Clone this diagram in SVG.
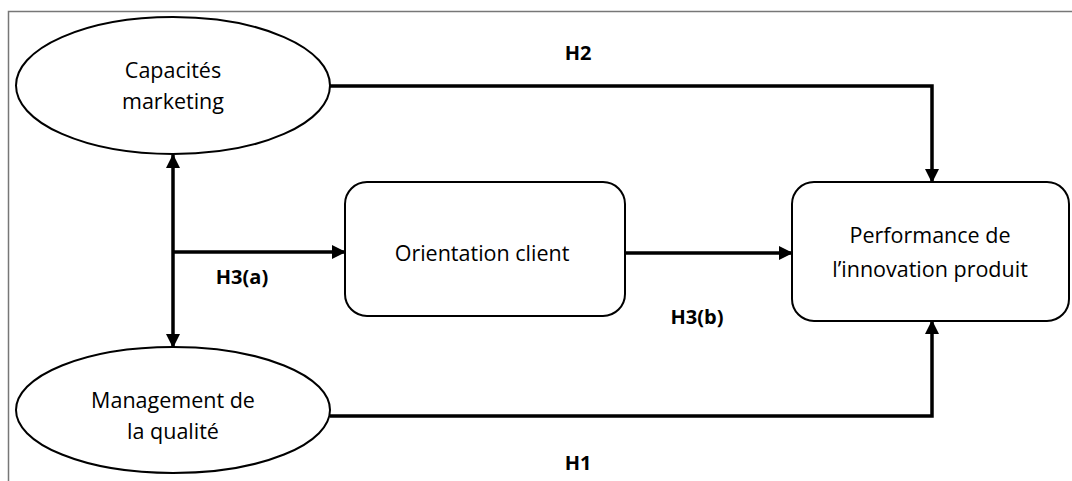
<svg xmlns="http://www.w3.org/2000/svg" width="1072" height="481" viewBox="0 0 1072 481">
<defs>
<marker id="ah2" markerWidth="14" markerHeight="14" refX="13" refY="7" orient="auto" markerUnits="userSpaceOnUse" viewBox="0 0 14 14">
<path d="M0,0 L14,7 L0,14 z" fill="#000"/>
</marker>
</defs>
<style>
.node{fill:#fff;stroke:#000;stroke-width:2}
.lbl{font-family:"Open Sans","Liberation Sans",sans-serif;font-size:21.5px;fill:#000;text-anchor:middle}
.hl{font-family:"Open Sans","Liberation Sans",sans-serif;font-size:20px;font-weight:bold;fill:#000;text-anchor:middle}
.con{fill:none;stroke:#000;stroke-width:3.5;marker-end:url(#ah2)}
</style>
<rect width="1072" height="481" fill="#fff"/>
<path d="M8.5,481 V11.5 H1072" fill="none" stroke="#777" stroke-width="1.5"/>
<g id="connectors">
<path class="con" d="M330,86 H932 V182"/>
<path class="con" d="M330,416 H932 V321"/>
<path class="con" d="M625,253 H792"/>
<path class="con" d="M173,252 H345"/>
<path class="con" d="M173,252 V155"/>
<path class="con" d="M173,252 V347"/>
</g>
<g id="capacites">
<ellipse class="node" cx="173" cy="85.5" rx="157" ry="68.5"/>
<text class="lbl" x="173" y="78">Capacités</text>
<text class="lbl" x="173" y="109">marketing</text>
</g>
<g id="management">
<ellipse class="node" cx="173" cy="410" rx="157" ry="63"/>
<text class="lbl" x="173" y="408">Management de</text>
<text class="lbl" x="173" y="439">la qualité</text>
</g>
<g id="orientation">
<rect class="node" x="345" y="182" width="280" height="134" rx="22"/>
<text class="lbl" x="482" y="261">Orientation client</text>
</g>
<g id="performance">
<rect class="node" x="792" y="182" width="277" height="139" rx="22"/>
<text class="lbl" x="930" y="243">Performance de</text>
<text class="lbl" x="930" y="277">l’innovation produit</text>
</g>
<g id="labels">
<text class="hl" x="578" y="60">H2</text>
<text class="hl" x="242" y="284">H3(a)</text>
<text class="hl" x="697" y="324">H3(b)</text>
<text class="hl" x="578" y="470">H1</text>
</g>
</svg>
